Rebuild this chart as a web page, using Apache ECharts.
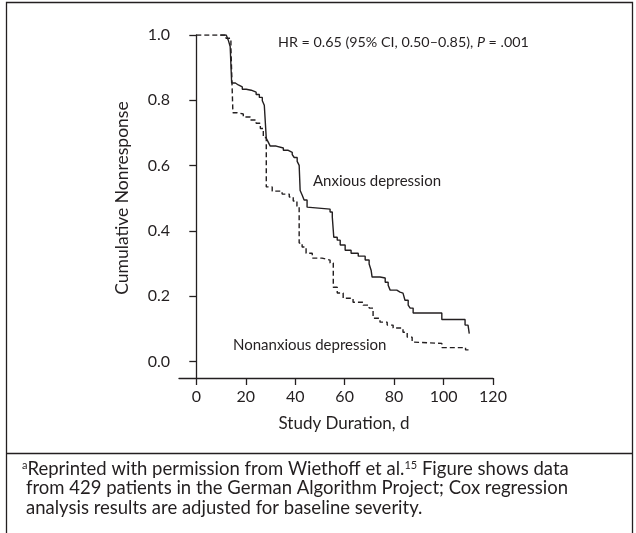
<!DOCTYPE html>
<html>
<head>
<meta charset="utf-8">
<script src="https://cdn.jsdelivr.net/npm/echarts@6/dist/echarts.min.js"></script>
<style>
html,body{margin:0;padding:0;background:#fff;}
#chart{width:636px;height:533px;}
</style>
</head>
<body>
<div id="chart"></div>
<script>
// Anxious depression (solid step line), days and cumulative nonresponse after each drop
var anxDays = [9.7,12.1,12.9,13.7,14.3,15.8,17.0,18.6,20.2,22.2,24.2,25.5,26.7,27.5,28.3,29.1,29.9,32.3,35.2,37.2,38.8,39.6,40.8,41.6,42.0,42.8,43.6,44.8,45.3,54.1,55.0,55.6,57.0,58.2,60.2,62.6,65.5,68.3,69.9,70.7,71.1,74.3,76.4,77.6,78.4,81.1,82.4,83.6,84.4,85.7,86.5,87.7,99.3,108.7,109.9,110.4];
var anxSurv = [1.0,0.994,0.985,0.965,0.853,0.847,0.841,0.834,0.831,0.825,0.818,0.809,0.799,0.785,0.684,0.672,0.66,0.654,0.647,0.641,0.634,0.625,0.613,0.601,0.524,0.51,0.495,0.473,0.467,0.458,0.443,0.381,0.372,0.357,0.341,0.332,0.323,0.311,0.299,0.28,0.259,0.256,0.243,0.234,0.219,0.213,0.21,0.204,0.188,0.173,0.164,0.149,0.129,0.112,0.106,0.086];

// Nonanxious depression (dashed step line)
var nonDays = [0,12.0,14.0,14.8,16.6,19.0,21.8,24.2,25.9,27.1,28.3,30.7,34.7,37.6,39.2,40.7,41.6,42.8,44.4,46.9,50.9,54.1,55.4,57.0,59.4,63.4,67.5,69.9,71.5,74.3,77.2,79.6,83.6,85.3,87.3,87.7,99.3,108.9,110.1];
var nonSurv = [1.0,0.99,0.96,0.762,0.758,0.749,0.74,0.73,0.714,0.686,0.535,0.522,0.513,0.504,0.492,0.476,0.363,0.351,0.332,0.317,0.311,0.302,0.228,0.21,0.194,0.182,0.173,0.164,0.133,0.121,0.112,0.103,0.09,0.075,0.06,0.056,0.043,0.036,0.03];

var xTicks = [0,20,40,60,80,100,120];
var yTicks = [0,0.2,0.4,0.6,0.8,1.0];

function pairs(d, v) {
    return d.map(function (t, i) { return [t, v[i]]; });
}

var ink = '#231f20';
var fam = 'Lato, "Open Sans", sans-serif';

var chart = echarts.init(document.getElementById('chart'));
chart.setOption({
    animation: false,
    backgroundColor: '#fff',
    grid: { left: 179, right: 143, top: 35, bottom: 155 },
    xAxis: {
        type: 'value',
        min: -7,
        max: 120,
        axisLine: { onZero: false, lineStyle: { color: ink, width: 1.3 } },
        axisTick: { customValues: xTicks, length: 7, lineStyle: { color: ink, width: 1.3 } },
        axisLabel: { customValues: xTicks, margin: 11, color: ink, fontSize: 16, fontFamily: fam },
        splitLine: { show: false }
    },
    yAxis: {
        type: 'value',
        min: -0.05,
        max: 1,
        axisLine: { show: true, lineStyle: { color: ink, width: 1.3 } },
        axisTick: { show: true, customValues: yTicks, length: 7, lineStyle: { color: ink, width: 1.3 } },
        axisLabel: {
            customValues: yTicks, margin: 9, color: ink, fontSize: 16, fontFamily: fam,
            formatter: function (v) { return v.toFixed(1); }
        },
        splitLine: { show: false }
    },
    series: [
        {
            name: 'Nonanxious depression',
            type: 'line',
            step: 'end',
            symbol: 'none',
            data: pairs(nonDays, nonSurv),
            lineStyle: { color: ink, width: 1.4, type: [5, 3] }
        },
        {
            name: 'Anxious depression',
            type: 'line',
            step: 'end',
            symbol: 'none',
            data: pairs(anxDays, anxSurv),
            lineStyle: { color: ink, width: 1.4 }
        }
    ],
    graphic: [
        { type: 'rect', shape: { x: 6.5, y: 2.5, width: 626, height: 560 },
          style: { fill: null, stroke: ink, lineWidth: 1.3 } },
        { type: 'line', shape: { x1: 6.5, y1: 453.5, x2: 632.5, y2: 453.5 },
          style: { stroke: ink, lineWidth: 1.3 } },
        { type: 'text', x: 122, y: 198, rotation: Math.PI / 2,
          style: { text: 'Cumulative Nonresponse', font: '17.5px ' + fam, fill: ink,
                   align: 'center', verticalAlign: 'middle' } },
        { type: 'text', x: 278, y: 42,
          style: { text: 'HR = 0.65 (95% CI, 0.50\u20130.85), {i|P} = .001', font: '14.3px ' + fam, fill: ink,
                   verticalAlign: 'middle',
                   rich: { i: { fontStyle: 'italic', fontSize: 14.3, fontFamily: fam, fill: ink } } } },
        { type: 'text', x: 313, y: 181,
          style: { text: 'Anxious depression', font: '15px ' + fam, fill: ink, verticalAlign: 'middle' } },
        { type: 'text', x: 233, y: 345,
          style: { text: 'Nonanxious depression', font: '15px ' + fam, fill: ink, verticalAlign: 'middle' } },
        { type: 'text', x: 344, y: 424,
          style: { text: 'Study Duration, d', font: '17px ' + fam, fill: ink, align: 'center', verticalAlign: 'middle' } },
        { type: 'text', x: 22, y: 469,
          style: { text: '{s|a}Reprinted with permission from Wiethoff et al.{s|15} Figure shows data',
                   font: '18.5px ' + fam, fill: ink, verticalAlign: 'middle',
                   rich: { s: { fontSize: 11, fontFamily: fam, fill: ink, verticalAlign: 'top' } } } },
        { type: 'text', x: 26, y: 488.5,
          style: { text: 'from 429 patients in the German Algorithm Project; Cox regression',
                   font: '18.5px ' + fam, fill: ink, verticalAlign: 'middle' } },
        { type: 'text', x: 26, y: 508,
          style: { text: 'analysis results are adjusted for baseline severity.',
                   font: '18.5px ' + fam, fill: ink, verticalAlign: 'middle' } }
    ]
});
</script>
</body>
</html>
